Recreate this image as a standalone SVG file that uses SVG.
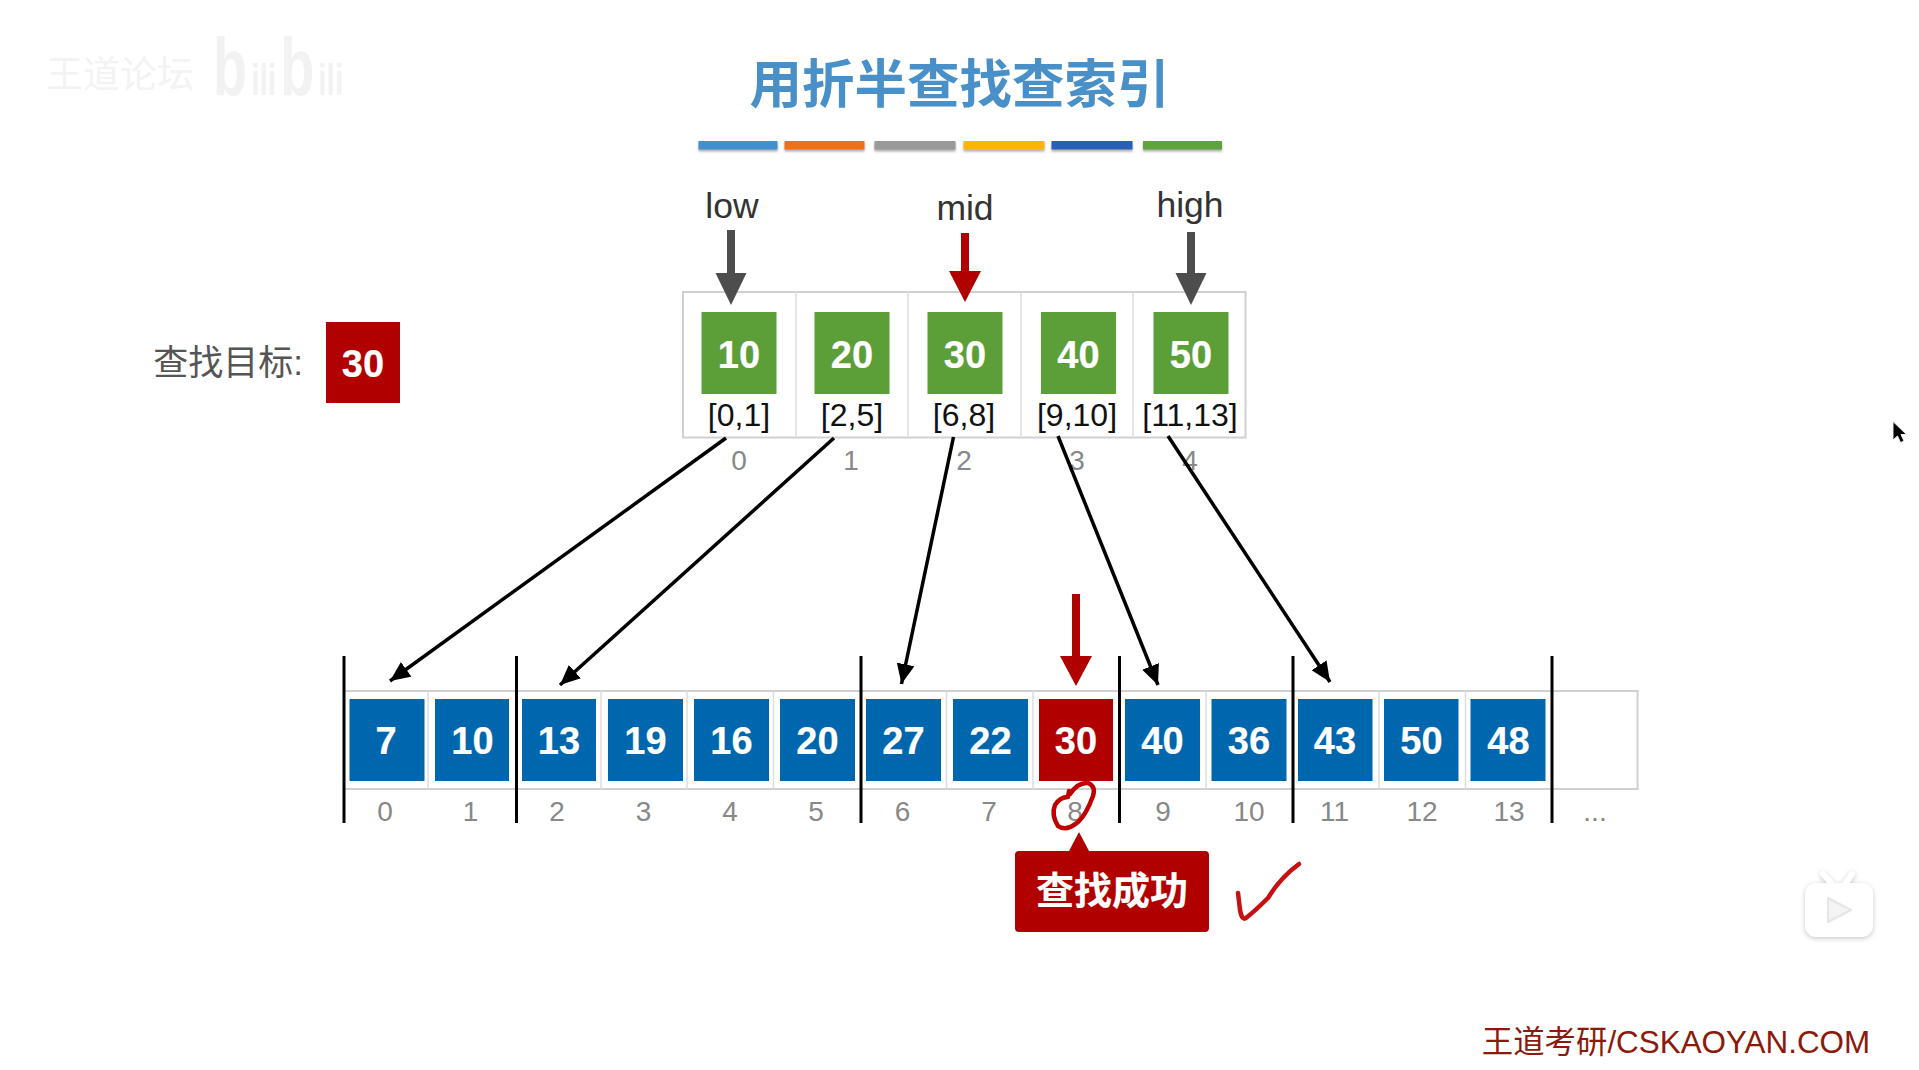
<svg xmlns="http://www.w3.org/2000/svg" width="1919" height="1070" viewBox="0 0 1919 1070">
<defs>
<marker id="blk" viewBox="0 0 20 18" refX="20" refY="9" markerWidth="20" markerHeight="18" markerUnits="userSpaceOnUse" orient="auto"><path d="M0 0L20 9L0 18z" fill="#000"/></marker>
<filter id="barshadow" x="-5%" y="-40%" width="110%" height="220%"><feDropShadow dx="0" dy="2" stdDeviation="1" flood-color="#888" flood-opacity=".7"/></filter>
<filter id="tvshadow" x="-20%" y="-20%" width="140%" height="140%"><feDropShadow dx="0" dy="1.500" stdDeviation="2.500" flood-color="#999" flood-opacity=".55"/></filter>
</defs>
<style>
text{font-family:"Liberation Sans","Noto Sans CJK SC",sans-serif;text-anchor:middle}
.val{font-size:38px;font-weight:700;fill:#fff;stroke:#fff;stroke-width:.2}
.idx{font-size:28px;fill:#888}
.rng{font-size:32px;fill:#111}
.ptr{font-size:35.500px;fill:#333}
.g{fill:#5c9e38}.b{fill:#0066ad}.r{fill:#b00000}
.cell{fill:none;stroke:#d0d0d0;stroke-width:2}
.div{stroke:#ddd;stroke-width:1.500}
.sep{stroke:#000;stroke-width:3}
.conn{stroke:#000;stroke-width:3.500;fill:none;marker-end:url(#blk)}
.wm{fill:#f2f2f2;text-anchor:start;font-weight:700}
</style>
<rect width="1919" height="1070" fill="#fff"/>
<g id="watermark">
<text x="120" y="88" font-size="37" fill="#f3f3f3">王道论坛</text>
<text class="wm" transform="translate(213,95) scale(.68,1)"><tspan font-size="82">b</tspan><tspan font-size="44" dx="6">ili</tspan><tspan font-size="82" dx="6">b</tspan><tspan font-size="44" dx="6">ili</tspan></text>
</g>
<g id="title"><text x="959.500" y="103" font-size="52.500" font-weight="700" fill="#4a90c8">用折半查找查索引</text></g>
<g id="bars" filter="url(#barshadow)">
<rect x="698.500" y="141" width="79" height="8.500" fill="#428fd0"/>
<rect x="784.500" y="141" width="80" height="8.500" fill="#f07018"/>
<rect x="874.500" y="141" width="81" height="8.500" fill="#9a9a9a"/>
<rect x="963.500" y="141" width="81" height="8.500" fill="#fdb600"/>
<rect x="1051.500" y="141" width="81" height="8.500" fill="#2c5fb8"/>
<rect x="1143" y="141" width="79" height="8.500" fill="#5ea33a"/>
</g>
<g id="target">
<text x="228" y="375" font-size="35" fill="#555">查找目标:</text>
<rect class="r" x="326" y="322" width="74" height="81"/>
<text class="val" x="363" y="377">30</text>
</g>
<g id="index-table">
<rect class="cell" x="683" y="292" width="562.500" height="145.500"/>
<path class="div" d="M796 292V437.500M908 292V437.500M1021 292V437.500M1133 292V437.500"/>
</g>
<g id="idx-0"><rect class="g" x="701.500" y="312" width="75" height="82"/><text class="val" x="739" y="368">10</text><text class="rng" x="739" y="426">[0,1]</text><text class="idx" x="739" y="469.500">0</text></g>
<g id="idx-1"><rect class="g" x="814.500" y="312" width="75" height="82"/><text class="val" x="852" y="368">20</text><text class="rng" x="852" y="426">[2,5]</text><text class="idx" x="851" y="469.500">1</text></g>
<g id="idx-2"><rect class="g" x="927.500" y="312" width="75" height="82"/><text class="val" x="965" y="368">30</text><text class="rng" x="964" y="426">[6,8]</text><text class="idx" x="964" y="469.500">2</text></g>
<g id="idx-3"><rect class="g" x="1041" y="312" width="75" height="82"/><text class="val" x="1078.500" y="368">40</text><text class="rng" x="1077" y="426">[9,10]</text><text class="idx" x="1077" y="469.500">3</text></g>
<g id="idx-4"><rect class="g" x="1153.500" y="312" width="75" height="82"/><text class="val" x="1191" y="368">50</text><text class="rng" x="1190" y="426">[11,13]</text><text class="idx" x="1190" y="469.500">4</text></g>
<g id="pointers">
<text class="ptr" x="732" y="218">low</text>
<text class="ptr" x="965" y="220">mid</text>
<text class="ptr" x="1190" y="217">high</text>
<path fill="#4d4d4d" d="M727 230h8v43h11.500L731 305L715.500 273H727z"/>
<path fill="#b00000" d="M961 233h8v38h12L965 302L949 271h12z"/>
<path fill="#4d4d4d" d="M1187 232h8v41h11.500L1191 305L1175.500 273H1187z"/>
</g>
<g id="main-table">
<rect class="cell" x="344" y="691" width="1293.500" height="98"/>
<path class="div" d="M428 691V789M601 691V789M687 691V789M773.500 691V789M946.500 691V789M1033 691V789M1206 691V789M1379 691V789M1465.500 691V789"/>
</g>
<g id="a0"><rect class="b" x="349.500" y="699" width="75" height="82"/><text class="val" x="386" y="754">7</text><text class="idx" x="385" y="821">0</text></g>
<g id="a1"><rect class="b" x="435" y="699" width="74" height="82"/><text class="val" x="472.500" y="754">10</text><text class="idx" x="470.500" y="821">1</text></g>
<g id="a2"><rect class="b" x="522" y="699" width="74" height="82"/><text class="val" x="559" y="754">13</text><text class="idx" x="557" y="821">2</text></g>
<g id="a3"><rect class="b" x="608" y="699" width="75" height="82"/><text class="val" x="645.500" y="754">19</text><text class="idx" x="643.500" y="821">3</text></g>
<g id="a4"><rect class="b" x="694" y="699" width="75" height="82"/><text class="val" x="731.500" y="754">16</text><text class="idx" x="730" y="821">4</text></g>
<g id="a5"><rect class="b" x="780" y="699" width="75" height="82"/><text class="val" x="817.500" y="754">20</text><text class="idx" x="816" y="821">5</text></g>
<g id="a6"><rect class="b" x="866" y="699" width="75" height="82"/><text class="val" x="903.500" y="754">27</text><text class="idx" x="902.500" y="821">6</text></g>
<g id="a7"><rect class="b" x="953" y="699" width="75" height="82"/><text class="val" x="990.500" y="754">22</text><text class="idx" x="989" y="821">7</text></g>
<g id="a8"><rect class="r" x="1039" y="699" width="74" height="82"/><text class="val" x="1076" y="754">30</text><text class="idx" x="1075" y="821">8</text></g>
<g id="a9"><rect class="b" x="1125" y="699" width="75" height="82"/><text class="val" x="1162.500" y="754">40</text><text class="idx" x="1163" y="821">9</text></g>
<g id="a10"><rect class="b" x="1211.500" y="699" width="75" height="82"/><text class="val" x="1249" y="754">36</text><text class="idx" x="1249" y="821">10</text></g>
<g id="a11"><rect class="b" x="1298" y="699" width="74.500" height="82"/><text class="val" x="1335" y="754">43</text><text class="idx" x="1334.500" y="821">11</text></g>
<g id="a12"><rect class="b" x="1384" y="699" width="74.500" height="82"/><text class="val" x="1421.500" y="754">50</text><text class="idx" x="1422" y="821">12</text></g>
<g id="a13"><rect class="b" x="1470.500" y="699" width="75" height="82"/><text class="val" x="1508.500" y="754">48</text><text class="idx" x="1509" y="821">13</text></g>
<g id="ellipsis"><text class="idx" x="1595" y="821">...</text></g>
<g id="separators">
<path class="sep" d="M344 656V823M516.500 656V823M861 656V823M1119.500 656V823M1293 656V823M1552 656V823"/>
</g>
<g id="connectors">
<path class="conn" d="M726 438L390 681"/>
<path class="conn" d="M834 438L560 685"/>
<path class="conn" d="M953.500 437L901.500 684"/>
<path class="conn" d="M1058 436L1158 685"/>
<path class="conn" d="M1168 436L1330 682"/>
</g>
<g id="hit-arrow"><path fill="#b00000" d="M1072 594h8v62h12L1076 686L1060 656h12z"/></g>
<g id="ink">
<path d="M1070 794Q1078 782 1088 783Q1096 786 1093 796Q1086 815 1078 822Q1066 832 1058 826Q1051 815 1055 805Q1060 797 1068 797L1069 791" fill="none" stroke="#c00000" stroke-width="4.500" stroke-linecap="round" stroke-linejoin="round"/>
<path d="M1299 864Q1280 878 1268 898Q1256 910 1246 918Q1242 921 1240 910L1238 893" fill="none" stroke="#c81010" stroke-width="4.500" stroke-linecap="round" stroke-linejoin="round"/>
</g>
<g id="result">
<path class="r" d="M1079 832L1089 851H1205Q1209 851 1209 855V928Q1209 932 1205 932H1019Q1015 932 1015 928V855Q1015 851 1019 851H1069z"/>
<text class="val" x="1112" y="904">查找成功</text>
</g>
<g id="brand"><text x="1676" y="1053" font-size="31.400" fill="#8b1a0a">王道考研/CSKAOYAN.COM</text></g>
<g id="tv-logo" filter="url(#tvshadow)">
<path d="M1823 874L1832 884M1852 874L1845 884" stroke="#fff" stroke-width="6" stroke-linecap="round"/>
<rect x="1805" y="883" width="68" height="54" rx="11" fill="#fff"/>
<path d="M1828 898L1851 910L1828 922z" fill="#f4f4f4" stroke="#e6e6e6" stroke-width="2" stroke-linejoin="round"/>
</g>
<g id="cursor"><path d="M1893 421.500V440L1897.500 436L1900.500 442.500L1904 441L1901 434.500H1906.500z" fill="#000" stroke="#eee" stroke-width="1"/></g>
</svg>
